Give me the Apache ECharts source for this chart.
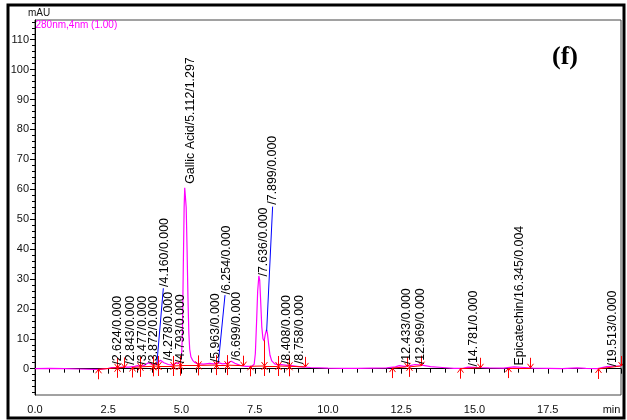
<!DOCTYPE html>
<html><head><meta charset="utf-8">
<script src="https://cdn.jsdelivr.net/npm/echarts@6/dist/echarts.min.js"></script>
<style>html,body{margin:0;padding:0;background:#fff}#c{width:627px;height:420px}</style>
</head><body><div id="c"></div>
<script>
// ---- axis ticks ----
const xMin = 0, xMax = 20, xStep = 2.5;
const yMin = -8.8, yMax = 116.6;
const yTicks = [0, 10, 20, 30, 40, 50, 60, 70, 80, 90, 100, 110];
const yMinorTicks = [-8, -6, -4, -2, 2, 4, 6, 8, 12, 14, 16, 18, 22, 24, 26, 28, 32, 34, 36, 38, 42, 44, 46, 48, 52, 54, 56, 58, 62, 64, 66, 68, 72, 74, 76, 78, 82, 84, 86, 88, 92, 94, 96, 98, 102, 104, 106, 108, 112, 114, 116];

// ---- chromatogram (280nm) ----
const signalTime = [0.0, 0.5, 1.0, 1.5, 2.0, 2.2, 2.5, 2.62, 2.8, 3.0, 3.2, 3.4, 3.5, 3.6, 3.75, 3.87, 3.95, 4.05, 4.16, 4.28, 4.4, 4.55, 4.7, 4.79, 4.88, 4.96, 5.0, 5.03, 5.06, 5.09, 5.11, 5.13, 5.16, 5.19, 5.22, 5.25, 5.28, 5.32, 5.38, 5.45, 5.55, 5.75, 5.96, 6.1, 6.25, 6.4, 6.55, 6.7, 6.82, 7.0, 7.2, 7.4, 7.48, 7.52, 7.56, 7.6, 7.64, 7.67, 7.7, 7.74, 7.78, 7.82, 7.86, 7.9, 7.93, 7.97, 8.02, 8.08, 8.18, 8.3, 8.41, 8.6, 8.76, 9.0, 9.4, 10.0, 10.5, 11.0, 11.5, 12.0, 12.3, 12.43, 12.6, 12.8, 12.97, 13.2, 13.5, 13.9, 14.3, 14.6, 14.78, 15.1, 15.5, 16.0, 16.35, 16.7, 17.0, 17.5, 18.0, 18.5, 18.8, 19.2, 19.51, 19.8, 20.0];
const signalValue = [0.0, 0.1, 0.0, -0.1, -0.2, -0.2, 0.1, 0.4, 0.4, 0.5, 0.5, 0.8, 1.0, 0.8, 1.2, 2.0, 1.6, 1.4, 1.7, 2.8, 2.0, 1.4, 1.2, 1.9, 1.7, 2.4, 4, 11, 33, 54, 60.5, 60, 54, 40, 24, 12, 6.5, 4, 2.8, 2.1, 1.7, 1.5, 1.8, 1.6, 2.0, 1.6, 1.8, 2.5, 1.8, 1.1, 0.8, 0.8, 1.5, 5, 15, 26, 31, 29.5, 23, 14, 10, 9.3, 11.5, 13, 12, 8.5, 4.5, 2.6, 1.6, 1.3, 1.4, 1.1, 1.0, 0.7, 0.4, 0.2, 0.1, 0.1, 0.2, 0.3, 0.6, 1.0, 0.8, 1.0, 1.4, 1.2, 0.7, 0.4, 0.1, 0.1, 0.5, 0.4, 0.3, 0.2, 0.6, 0.4, 0.2, 0.1, 0.0, 0.3, 0.1, 0.0, 0.7, 0.9, 0.9];

// ---- peak table ----
const peakRT   = [2.624, 2.843, 3.477, 3.872, 4.160, 4.278, 4.793, 5.112, 5.963, 6.254, 6.699, 7.636, 7.899, 8.408, 8.758, 12.433, 12.969, 14.781, 16.345, 19.513];
const peakName = ['', '', '', '', '', '', '', 'Gallic Acid', '', '', '', '', '', '', '', '', '', '', 'Epicatechin', ''];
const peakConc = [0, 0, 0, 0, 0, 0, 0, 1.297, 0, 0, 0, 0, 0, 0, 0, 0, 0, 0, 0.004, 0];
const peakStart  = [2.165, 2.81, 3.30, 3.59, 4.02, 4.21, 4.70, 4.95, 5.57, 6.18, 6.54, 7.34, 7.81, 8.28, 8.67, 12.19, 12.77, 14.50, 16.14, 19.21];
const peakEnd    = [2.81, 3.05, 3.59, 4.02, 4.21, 4.70, 4.95, 5.57, 6.18, 6.54, 7.11, 7.81, 8.28, 8.67, 9.21, 12.68, 13.19, 15.18, 16.91, 19.99];
const startLevel = [-0.2, 0.3, 0.4, 0.6, 0.8, 0.9, 0.9, 1.0, 1.1, 1.2, 1.2, 0.8, 0.9, 0.9, 0.8, 0.2, 0.6, 0.0, 0.2, -0.1];
const endLevel   = [0.3, 0.4, 0.6, 0.8, 0.9, 0.9, 1.0, 1.1, 1.2, 1.2, 1.0, 0.9, 0.9, 0.8, 0.6, 0.6, 1.0, 0.3, 0.3, 0.9];
// where each peak label starts (time, level)
const labelTime  = [2.624, 3.06, 3.477, 3.872, 4.25, 4.364, 4.793, 5.112, 5.963, 6.355, 6.699, 7.62, 7.93, 8.408, 8.855, 12.49, 12.969, 14.781, 16.345, 19.513];
const labelLevel = [1.0, 1.0, 1.0, 1.0, 27, 2.3, 1.5, 61.5, 1.8, 24.5, 2.3, 30.5, 54.5, 1.2, 1.2, 1.2, 1.2, 0.4, 0.7, 0.4];
// label leader lines (blue)
const leaderFrom = [[4.155, 1.2], [6.256, 1.8], [7.906, 12.5]];
const leaderTo   = [[4.38, 26.9], [6.485, 24.6], [8.11, 54.2]];
// valley drop line
const dropTime = 7.81, dropFrom = 0.9, dropTo = 9.5;

const FONT = '"Liberation Sans", Arial, sans-serif';
const labelText = peakRT.map((rt, i) => peakName[i] + '/' + rt.toFixed(3) + '/' + peakConc[i].toFixed(3));

const chart = echarts.init(document.getElementById('c'), null, {renderer: 'canvas'});

const baselineData = peakStart.map((s, i) => ({coords: [[s, startLevel[i]], [peakEnd[i], endLevel[i]]]}));
baselineData.push({coords: [[dropTime, dropFrom], [dropTime, dropTo]]});
const leaderData = leaderFrom.map((f, i) => ({coords: [f, leaderTo[i]]}));
const markerData = [];
peakStart.forEach((s, i) => markerData.push([s, startLevel[i], 1]));
peakEnd.forEach((e, i) => markerData.push([e, endLevel[i], -1]));

const option = {
  animation: false,
  backgroundColor: '#fff',
  grid: {left: 35, right: 6, top: 20, bottom: 25, show: true, borderColor: '#444', borderWidth: 1},
  xAxis: {
    type: 'value', min: xMin, max: xMax, interval: xStep,
    axisLine: {show: true, lineStyle: {color: '#000', width: 1}},
    axisTick: {show: true, length: 5, lineStyle: {color: '#000'}},
    minorTick: {show: true, splitNumber: 5, length: 4, lineStyle: {color: '#000'}},
    splitLine: {show: false}, minorSplitLine: {show: false},
    axisLabel: {
      margin: 9, fontSize: 11, fontFamily: FONT, color: '#111', interval: 0,
      showMinLabel: true, showMaxLabel: true,
      formatter: v => v >= xMax ? '{m|min}' : v.toFixed(1),
      rich: {m: {padding: [0, 19, 0, 0], fontSize: 11, fontFamily: FONT, color: '#111'}}
    }
  },
  yAxis: [{
    type: 'value', min: yMin, max: yMax, position: 'left',
    axisLine: {show: true, lineStyle: {color: '#000', width: 1}},
    axisTick: {show: true, length: 5, customValues: yTicks, lineStyle: {color: '#000'}},
    axisLabel: {margin: 6, fontSize: 11, fontFamily: FONT, color: '#111', customValues: yTicks},
    splitLine: {show: false}
  }, {
    type: 'value', min: yMin, max: yMax, position: 'left', offset: 0,
    axisLine: {show: false},
    axisTick: {show: true, length: 3, customValues: yMinorTicks, lineStyle: {color: '#000'}},
    axisLabel: {show: false, customValues: yMinorTicks},
    splitLine: {show: false}
  }],
  graphic: [
    {type: 'text', left: 28, top: 8, style: {text: 'mAU', fill: '#111', font: '10px ' + FONT}},
    {type: 'text', left: 35.5, top: 20.5, style: {text: '280nm,4nm (1.00)', fill: '#ff00ff', font: '10px ' + FONT}},
    {type: 'text', x: 565, y: 57, style: {text: '(f)', fill: '#000', font: 'bold 26px "Liberation Serif", "Times New Roman", serif', align: 'center', verticalAlign: 'middle'}},
    {type: 'rect', shape: {x: 8, y: 5, width: 616, height: 413}, style: {fill: 'none', stroke: '#000', lineWidth: 3}, z: 100}
  ],
  series: [
    {
      type: 'line', data: signalTime.map((t, i) => [t, signalValue[i]]),
      showSymbol: false, symbol: 'none', lineStyle: {color: '#ff00ff', width: 1.2}, z: 3, silent: true
    },
    {
      type: 'lines', coordinateSystem: 'cartesian2d', data: baselineData,
      lineStyle: {color: '#ff0000', width: 1, opacity: 1}, z: 4, silent: true
    },
    {
      type: 'lines', coordinateSystem: 'cartesian2d', data: leaderData,
      lineStyle: {color: '#0000ff', width: 1, opacity: 1}, z: 4, silent: true
    },
    {
      type: 'custom', data: markerData, z: 5, silent: true, clip: false,
      renderItem: (params, api) => {
        const p = api.coord([api.value(0), api.value(1)]);
        const d = api.value(2);
        const x = Math.round(p[0]) + 0.5, y = p[1];
        const tail = y + d * 10, tip = y;
        return {type: 'group', children: [
          {type: 'line', shape: {x1: x, y1: tail, x2: x, y2: tip}, style: {stroke: '#ff0000', lineWidth: 1}},
          {type: 'polyline', shape: {points: [[x - 3, tip + d * 4], [x, tip], [x + 3, tip + d * 4]]}, style: {stroke: '#ff0000', fill: null, lineWidth: 1}}
        ]};
      }
    },
    {
      type: 'custom', data: labelTime.map((t, i) => [t, labelLevel[i], i]), z: 6, silent: true, clip: false,
      renderItem: (params, api) => {
        const p = api.coord([api.value(0), api.value(1)]);
        const i = api.value(2);
        return {type: 'text', x: p[0] + 5.5, y: p[1] - 1, rotation: Math.PI / 2,
          style: {text: labelText[i], fill: '#000', fontSize: 12.4, fontFamily: FONT, align: 'left', verticalAlign: 'middle'}};
      }
    }
  ]
};
chart.setOption(option);
</script></body></html>
